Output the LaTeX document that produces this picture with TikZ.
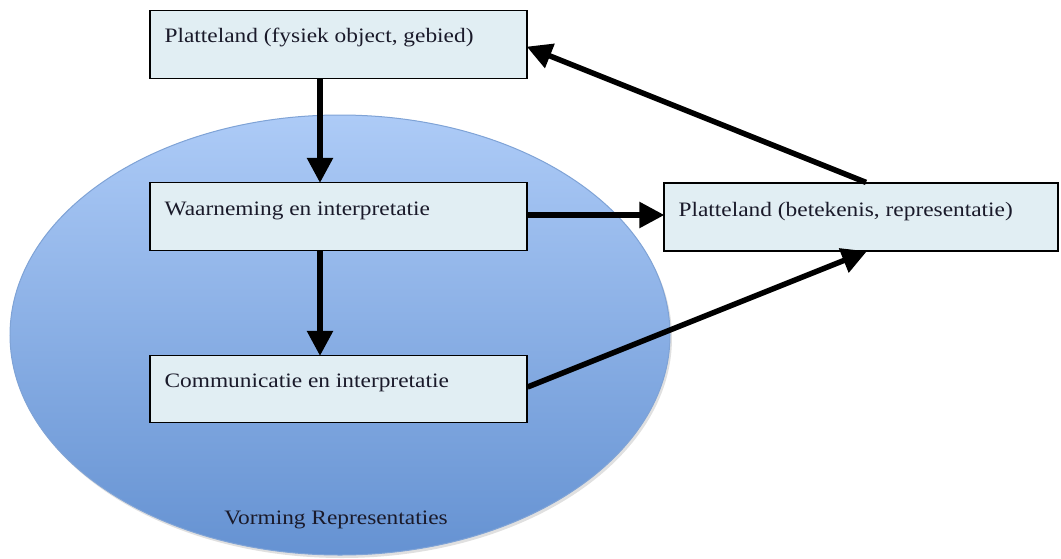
\documentclass[tikz,border=0pt]{standalone}
\usepackage{fontspec}
\setmainfont{Liberation Serif}[FakeStretch=1.14]
\usetikzlibrary{arrows.meta,shadows}
\definecolor{boxfill}{HTML}{E1EEF3}
\definecolor{elltop}{HTML}{ADCBF7}
\definecolor{ellbot}{HTML}{6592D2}
\definecolor{elledge}{HTML}{7FA3D6}
\definecolor{txt}{HTML}{1A1A2A}
\tikzset{
  flowbox/.style={draw=black, line width=1.2pt, fill=boxfill, rectangle, inner sep=0pt},
  boxtext/.style={anchor=west, font=\fontsize{20.5}{22}\selectfont, text=txt, inner sep=0pt},
  flow/.style={line width=5.5pt, -{Triangle[length=25pt,width=25pt]}, shorten >=-1pt}
}
\begin{document}
\begin{tikzpicture}[x=1pt,y=-1pt]
\useasboundingbox (0,0) rectangle (1061,558);
% ellipse with shadow
\fill[black!30, opacity=0.4] (342,338) ellipse [x radius=330, y radius=220];
\shade[top color=elltop, bottom color=ellbot, draw=elledge, line width=1pt]
  (340,335) ellipse [x radius=330, y radius=220];
\node[font=\fontsize{20.5}{22}\selectfont, text=txt] (vr) at (336,520) {Vorming Representaties};
% boxes
\node[flowbox, minimum width=377, minimum height=68] (b1) at (338.5,44.5) {};
\node[flowbox, minimum width=377, minimum height=68] (b2) at (338.5,216.5) {};
\node[flowbox, minimum width=377, minimum height=67] (b3) at (338.5,389) {};
\node[flowbox, minimum width=394, minimum height=68] (b4) at (861,217) {};
\node[boxtext] (t1) at ([xshift=15pt,yshift=7pt]b1.west) {Platteland (fysiek object, gebied)};
\node[boxtext] (t2) at ([xshift=15pt,yshift=6pt]b2.west) {Waarneming en interpretatie};
\node[boxtext] (t3) at ([xshift=15pt,yshift=6pt]b3.west) {Communicatie en interpretatie};
\node[boxtext] (t4) at ([xshift=15pt,yshift=5pt]b4.west) {Platteland (betekenis, representatie)};
% connectors
\draw[flow] (b1.south -| 320,0) -- (b2.north -| 320,0);
\draw[flow] (b2.south -| 320,0) -- (b3.north -| 320,0);
\draw[flow] (b2.east |- 0,215) -- (b4.west |- 0,215);
\draw[flow] (b3.east |- 0,387) -- (b4.south -| 866,0);
\draw[flow] (b4.north -| 866,0) -- (b1.east |- 0,47);
\end{tikzpicture}
\end{document}
